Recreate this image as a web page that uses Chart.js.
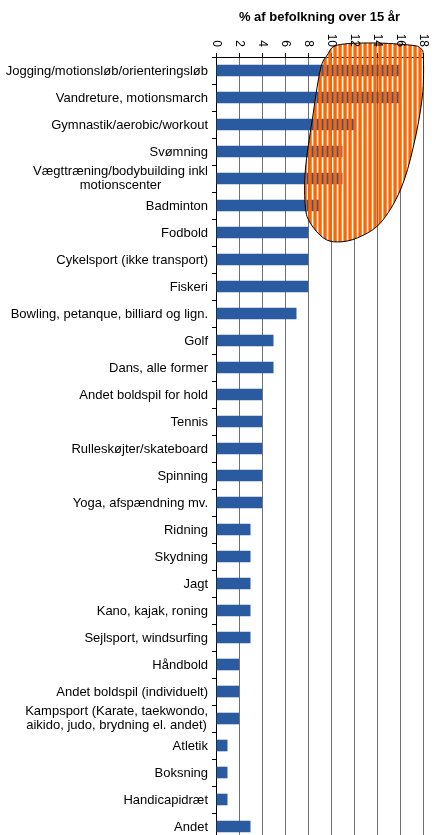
<!DOCTYPE html>
<html>
<head>
<meta charset="utf-8">
<script src="https://cdn.jsdelivr.net/npm/chart.js@4"></script>
<style>
  html, body { margin: 0; padding: 0; background: #fff; overflow: hidden; }
  canvas { display: block; }
</style>
</head>
<body>
<canvas id="chart" width="439" height="845"></canvas>
<script>
const categories = [
  'Jogging/motionsløb/orienteringsløb',
  'Vandreture, motionsmarch',
  'Gymnastik/aerobic/workout',
  'Svømning',
  ['Vægttræning/bodybuilding inkl', 'motionscenter'],
  'Badminton',
  'Fodbold',
  'Cykelsport (ikke transport)',
  'Fiskeri',
  'Bowling, petanque, billiard og lign.',
  'Golf',
  'Dans, alle former',
  'Andet boldspil for hold',
  'Tennis',
  'Rulleskøjter/skateboard',
  'Spinning',
  'Yoga, afspændning mv.',
  'Ridning',
  'Skydning',
  'Jagt',
  'Kano, kajak, roning',
  'Sejlsport, windsurfing',
  'Håndbold',
  'Andet boldspil (individuelt)',
  ['Kampsport (Karate, taekwondo,', 'aikido, judo, brydning el. andet)'],
  'Atletik',
  'Boksning',
  'Handicapidræt',
  'Andet'
];
const values = [16, 16, 12, 11, 11, 9, 8, 8, 8, 7, 5, 5, 4, 4, 4, 4, 4, 3, 3, 3, 3, 3, 2, 2, 2, 1, 1, 1, 3];
const xTicks = [0, 2, 4, 6, 8, 10, 12, 14, 16, 18];
const axisTitle = '% af befolkning over 15 år';

// outline of the highlight blob, in (x value, category index) units
const blobX = [18.03, 17.94, 17.16, 16.03, 14.29, 12.29, 10.55, 9.33, 8.2, 7.77, 7.77, 8.37, 9.07, 9.68, 10.55, 13.68, 16.9, 17.77];
const blobY = [-0.5, 0.98, 2.83, 4.43, 5.65, 6.2, 6.35, 6.2, 5.65, 5.06, 3.69, 1.83, -0.02, -0.57, -0.94, -1.02, -0.94, -0.83];

const FONT = '"Liberation Sans", Arial, sans-serif';

const decor = {
  id: 'decor',
  afterDraw(chart) {
    const ctx = chart.ctx;
    const xs = chart.scales.x, ys = chart.scales.y;

    // blob
    const pts = blobX.map((v, i) => [xs.getPixelForValue(v), ys.getPixelForValue(blobY[i])]);
    const n = pts.length;
    const P = i => pts[(i + n) % n];
    ctx.save();
    ctx.beginPath();
    ctx.moveTo(pts[0][0], pts[0][1]);
    for (let i = 0; i < n; i++) {
      const p0 = P(i - 1), p1 = P(i), p2 = P(i + 1), p3 = P(i + 2);
      ctx.bezierCurveTo(
        p1[0] + (p2[0] - p0[0]) / 6, p1[1] + (p2[1] - p0[1]) / 6,
        p2[0] - (p3[0] - p1[0]) / 6, p2[1] - (p3[1] - p1[1]) / 6,
        p2[0], p2[1]);
    }
    ctx.closePath();
    ctx.save();
    ctx.clip();
    const minX = Math.min(...pts.map(p => p[0])) - 2;
    const maxX = Math.max(...pts.map(p => p[0])) + 2;
    const minY = Math.min(...pts.map(p => p[1])) - 2;
    const maxY = Math.max(...pts.map(p => p[1])) + 2;
    ctx.fillStyle = '#FF6600';
    for (let x = minX; x < maxX; x += 5) ctx.fillRect(x, minY, 3.4, maxY - minY);
    ctx.restore();
    ctx.lineWidth = 1;
    ctx.strokeStyle = '#000';
    ctx.stroke();
    ctx.restore();

    // title + rotated x tick labels
    ctx.save();
    ctx.fillStyle = '#000';
    ctx.font = 'bold 13px ' + FONT;
    ctx.textAlign = 'center';
    ctx.textBaseline = 'alphabetic';
    ctx.fillText(axisTitle, (chart.chartArea.left + chart.chartArea.right) / 2, 21);
    ctx.font = '12px ' + FONT;
    xTicks.forEach(t => {
      ctx.save();
      ctx.translate(xs.getPixelForValue(t), 47);
      ctx.rotate(Math.PI / 2);
      ctx.textAlign = 'right';
      ctx.textBaseline = 'middle';
      ctx.fillText(String(t), 0, 0);
      ctx.restore();
    });

    // y labels
    ctx.font = '13px ' + FONT;
    ctx.textBaseline = 'middle';
    const right = ys.right - 8;
    categories.forEach((c, i) => {
      const y = ys.getPixelForTick(i);
      if (Array.isArray(c)) {
        const w = Math.max(...c.map(s => ctx.measureText(s).width));
        const cx = right - w / 2;
        ctx.textAlign = 'center';
        c.forEach((s, k) => ctx.fillText(s, cx, y + (k - (c.length - 1) / 2) * 14));
      } else {
        ctx.textAlign = 'right';
        ctx.fillText(c, right, y + 1);
      }
    });
    ctx.restore();
  }
};

new Chart(document.getElementById('chart'), {
  type: 'bar',
  data: {
    labels: categories,
    datasets: [{
      data: values,
      backgroundColor: '#2A5AA0',
      barPercentage: 0.43,
      categoryPercentage: 1
    }]
  },
  options: {
    indexAxis: 'y',
    responsive: false,
    animation: false,
    layout: { padding: { left: 0, right: 16, top: 0, bottom: 5 } },
    plugins: { legend: { display: false }, tooltip: { enabled: false } },
    scales: {
      x: {
        position: 'top',
        min: 0,
        max: 18,
        ticks: { display: false, stepSize: 2 },
        grid: { color: '#707070', tickColor: '#000', tickLength: 4 },
        border: { color: '#000' },
        afterFit: s => { s.height = 57; }
      },
      y: {
        ticks: { display: false },
        grid: { drawOnChartArea: false, tickColor: '#000', tickLength: 4 },
        border: { color: '#000' },
        afterFit: s => { s.width = 216; }
      }
    }
  },
  plugins: [decor]
});
</script>
</body>
</html>
